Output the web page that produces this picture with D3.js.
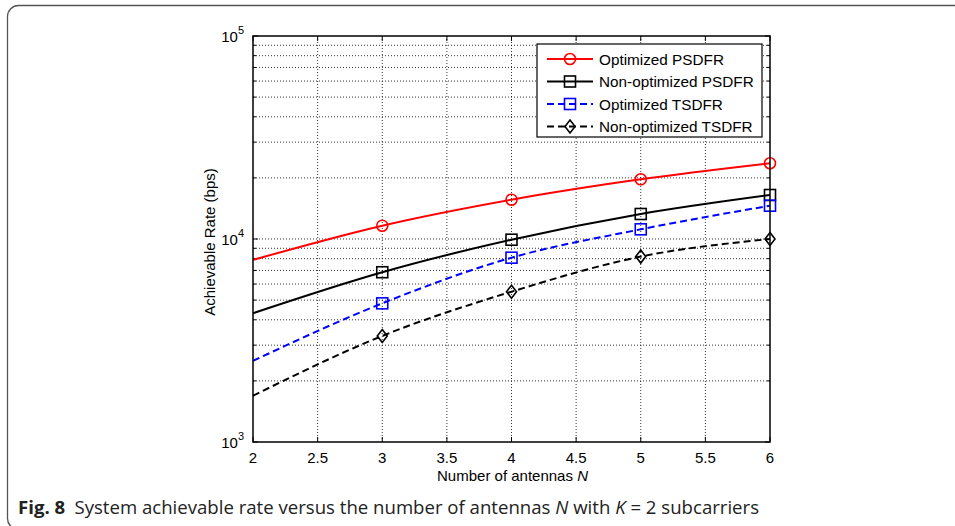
<!DOCTYPE html>
<html>
<head>
<meta charset="utf-8">
<script src="https://cdn.jsdelivr.net/npm/d3@7"></script>
<style>
  body { margin: 0; background: #fff; }
</style>
</head>
<body>
<svg id="chart" width="955" height="526" font-family="Liberation Sans, Arial, Helvetica, sans-serif"></svg>
<script>
// antenna counts and achievable rates (bps)
const antennas = [2, 3, 4, 5, 6];
const optPSDFR = [7890, 11630, 15620, 19680, 23600];
const nonOptPSDFR = [4310, 6860, 9920, 13280, 16470];
const optTSDFR = [2510, 4820, 8090, 11160, 14590];
const nonOptTSDFR = [1690, 3330, 5500, 8190, 10000];
const xTicks = [2, 2.5, 3, 3.5, 4, 4.5, 5, 5.5, 6];
const yDecades = [1e3, 1e4, 1e5];

const series = [
    {name: 'Optimized PSDFR', values: optPSDFR, color: '#ff0000', dash: null, marker: 'circle'},
    {name: 'Non-optimized PSDFR', values: nonOptPSDFR, color: '#000000', dash: null, marker: 'square'},
    {name: 'Optimized TSDFR', values: optTSDFR, color: '#0000ff', dash: '7,4', marker: 'square'},
    {name: 'Non-optimized TSDFR', values: nonOptTSDFR, color: '#000000', dash: '7,4', marker: 'diamond'}
];

const margin = {top: 36, left: 253};
const width = 517, height = 406;

const svg = d3.select('#chart');

// rounded frame of the figure panel
svg.append('rect')
    .attr('x', 7.5).attr('y', 5.5)
    .attr('width', 1000).attr('height', 524)
    .attr('rx', 11)
    .attr('fill', 'none')
    .attr('stroke', '#555')
    .attr('stroke-width', 1.3);

const chart = svg.append('g')
    .attr('transform', `translate(${margin.left},${margin.top})`);

const xScale = d3.scaleLinear().domain([2, 6]).range([0, width]);
const yScale = d3.scaleLog().domain([1e3, 1e5]).range([height, 0]);

// minor log ticks 2..9 in each decade
const yMinor = [];
yDecades.slice(0, -1).forEach(d => {
    for (let k = 2; k <= 9; k++) yMinor.push(d * k);
});

// grid
chart.append('g').selectAll('line')
    .data(xTicks.slice(1, -1))
    .join('line')
    .attr('x1', d => xScale(d)).attr('x2', d => xScale(d))
    .attr('y1', 0).attr('y2', height)
    .attr('stroke', '#000').attr('stroke-width', 0.8)
    .attr('stroke-dasharray', '1,2');

chart.append('g').selectAll('line')
    .data(yMinor.concat([1e4]))
    .join('line')
    .attr('x1', 0).attr('x2', width)
    .attr('y1', d => yScale(d)).attr('y2', d => yScale(d))
    .attr('stroke', '#000').attr('stroke-width', 0.8)
    .attr('stroke-dasharray', '1,2');

// inward ticks on all four sides
const tickG = chart.append('g').attr('stroke', '#000').attr('stroke-width', 1);
xTicks.forEach(t => {
    const x = xScale(t);
    tickG.append('line').attr('x1', x).attr('x2', x).attr('y1', height).attr('y2', height - 5);
    tickG.append('line').attr('x1', x).attr('x2', x).attr('y1', 0).attr('y2', 5);
});
yMinor.concat(yDecades).forEach(t => {
    const y = yScale(t);
    const len = yDecades.includes(t) ? 5 : 3;
    tickG.append('line').attr('x1', 0).attr('x2', len).attr('y1', y).attr('y2', y);
    tickG.append('line').attr('x1', width).attr('x2', width - len).attr('y1', y).attr('y2', y);
});

// x tick labels
chart.append('g').selectAll('text')
    .data(xTicks)
    .join('text')
    .attr('x', d => xScale(d))
    .attr('y', height + 21)
    .attr('text-anchor', 'middle')
    .style('font-size', '15px')
    .text(d => d);

// y tick labels 10^k
yDecades.forEach(d => {
    const t = chart.append('text')
        .attr('x', -9)
        .attr('y', yScale(d) + 6)
        .attr('text-anchor', 'end')
        .style('font-size', '15px');
    t.append('tspan').text('10');
    t.append('tspan').attr('dy', -8).style('font-size', '11px').text(Math.log10(d));
});

// axis titles
const xt = chart.append('text')
    .attr('x', width / 2 + 1)
    .attr('y', height + 39)
    .attr('text-anchor', 'middle')
    .style('font-size', '15px');
xt.append('tspan').text('Number of antennas  ');
xt.append('tspan').style('font-style', 'italic').text('N');

chart.append('text')
    .attr('transform', 'rotate(-90)')
    .attr('x', -206)
    .attr('y', -38)
    .attr('text-anchor', 'middle')
    .style('font-size', '15px')
    .text('Achievable Rate (bps)');

// lines
const line = d3.line()
    .x((d, i) => xScale(antennas[i]))
    .y(d => yScale(d))
    .curve(d3.curveMonotoneX);

function drawMarker(g, type, x, y, color) {
    if (type === 'circle') {
        g.append('circle').attr('cx', x).attr('cy', y).attr('r', 5.5)
            .attr('fill', 'none').attr('stroke', color).attr('stroke-width', 1.6);
    } else if (type === 'square') {
        g.append('rect').attr('x', x - 5.5).attr('y', y - 5.5)
            .attr('width', 11).attr('height', 11)
            .attr('fill', 'none').attr('stroke', color).attr('stroke-width', 1.6);
    } else {
        g.append('path').attr('d', `M${x},${y - 6.5}L${x + 5},${y}L${x},${y + 6.5}L${x - 5},${y}Z`)
            .attr('fill', 'none').attr('stroke', color).attr('stroke-width', 1.6);
    }
}

series.forEach(s => {
    chart.append('path')
        .datum(s.values)
        .attr('d', line)
        .attr('fill', 'none')
        .attr('stroke', s.color)
        .attr('stroke-width', 2)
        .attr('stroke-dasharray', s.dash);
    const mg = chart.append('g');
    // the reference shows no marker at N = 2
    s.values.forEach((v, i) => {
        if (i > 0) drawMarker(mg, s.marker, xScale(antennas[i]), yScale(v), s.color);
    });
});

// frame
chart.append('rect')
    .attr('width', width).attr('height', height)
    .attr('fill', 'none').attr('stroke', '#000').attr('stroke-width', 1.5);

// legend
const legend = svg.append('g').attr('transform', 'translate(537,44)');
legend.append('rect')
    .attr('width', 225).attr('height', 93)
    .attr('fill', '#fff').attr('stroke', '#000').attr('stroke-width', 1.2);
series.forEach((s, i) => {
    const y = 15 + i * 22.5;
    legend.append('line')
        .attr('x1', 10).attr('x2', 56).attr('y1', y).attr('y2', y)
        .attr('stroke', s.color).attr('stroke-width', 2)
        .attr('stroke-dasharray', s.dash);
    drawMarker(legend, s.marker, 33, y, s.color);
    legend.append('text')
        .attr('x', 62).attr('y', y + 5.5)
        .style('font-size', '15.3px')
        .text(s.name);
});

// caption
const cap = svg.append('text')
    .attr('x', 18).attr('y', 514)
    .style('font-family', '"Open Sans", "Noto Sans", sans-serif')
    .style('font-size', '18.6px')
    .attr('fill', '#222');
cap.append('tspan').style('font-weight', 'bold').text('Fig. 8');
cap.append('tspan').text('\u2002System achievable rate versus the number of antennas ');
cap.append('tspan').style('font-style', 'italic').text('N');
cap.append('tspan').text(' with ');
cap.append('tspan').style('font-style', 'italic').text('K');
cap.append('tspan').text(' = 2 subcarriers');
</script>
</body>
</html>
